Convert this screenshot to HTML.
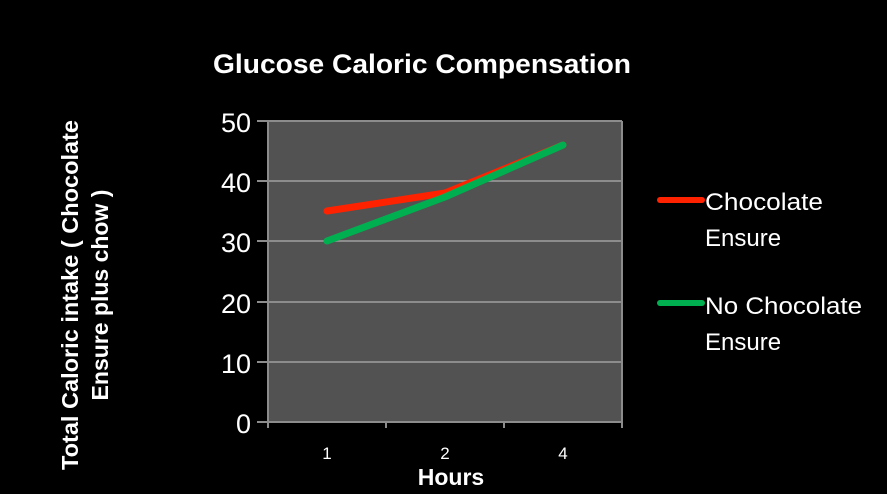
<!DOCTYPE html>
<html><head><style>
body{margin:0;background:#000;width:887px;height:494px;overflow:hidden}
svg{display:block}
text{font-family:"Liberation Sans",sans-serif;fill:#fff}
</style></head><body>
<svg width="887" height="494" viewBox="0 0 887 494">
<rect width="887" height="494" fill="#000"/>
<text x="422" y="73" font-size="27" font-weight="bold" text-anchor="middle" textLength="418" lengthAdjust="spacingAndGlyphs">Glucose Caloric Compensation</text>
<rect x="268" y="121" width="354" height="301" fill="#525252"/>
<g stroke="#8c8c8c" stroke-width="2">
<line x1="268" y1="121" x2="622" y2="121"/>
<line x1="268" y1="181" x2="622" y2="181"/>
<line x1="268" y1="241" x2="622" y2="241"/>
<line x1="268" y1="302" x2="622" y2="302"/>
<line x1="268" y1="362" x2="622" y2="362"/>
<line x1="268" y1="422" x2="622" y2="422"/>
<line x1="268" y1="121" x2="268" y2="428"/>
<line x1="622" y1="121" x2="622" y2="428"/>
<line x1="386" y1="422" x2="386" y2="428"/>
<line x1="504" y1="422" x2="504" y2="428"/>
<line x1="257" y1="121" x2="268" y2="121"/>
<line x1="257" y1="181" x2="268" y2="181"/>
<line x1="257" y1="241" x2="268" y2="241"/>
<line x1="257" y1="302" x2="268" y2="302"/>
<line x1="257" y1="362" x2="268" y2="362"/>
<line x1="257" y1="422" x2="268" y2="422"/>
</g>
<g font-size="27" text-anchor="end">
<text x="251" y="132">50</text>
<text x="251" y="192">40</text>
<text x="251" y="252">30</text>
<text x="251" y="313">20</text>
<text x="251" y="373">10</text>
<text x="251" y="433">0</text>
</g>
<g font-size="17" text-anchor="middle">
<text x="327" y="459">1</text>
<text x="445" y="459">2</text>
<text x="563" y="459">4</text>
</g>
<text x="451" y="485" font-size="23" font-weight="bold" text-anchor="middle">Hours</text>
<g font-size="23" font-weight="bold" text-anchor="middle">
<text transform="translate(78,295) rotate(-90)" textLength="350" lengthAdjust="spacingAndGlyphs">Total Caloric intake ( Chocolate</text>
<text transform="translate(108,295) rotate(-90)">Ensure plus chow )</text>
</g>
<polyline points="327,211 445,193 563,145" fill="none" stroke="#ff2200" stroke-width="7" stroke-linecap="round" stroke-linejoin="round"/>
<polyline points="327,241 445,197 563,145" fill="none" stroke="#00b050" stroke-width="7" stroke-linecap="round" stroke-linejoin="round"/>
<line x1="660" y1="200" x2="702" y2="200" stroke="#ff2200" stroke-width="6" stroke-linecap="round"/>
<line x1="660" y1="303" x2="702" y2="303" stroke="#00b050" stroke-width="6" stroke-linecap="round"/>
<g font-size="24">
<text x="705" y="210" textLength="118" lengthAdjust="spacingAndGlyphs">Chocolate</text>
<text x="705" y="246">Ensure</text>
<text x="705" y="314" textLength="157" lengthAdjust="spacingAndGlyphs">No Chocolate</text>
<text x="705" y="350">Ensure</text>
</g>
</svg>
</body></html>
